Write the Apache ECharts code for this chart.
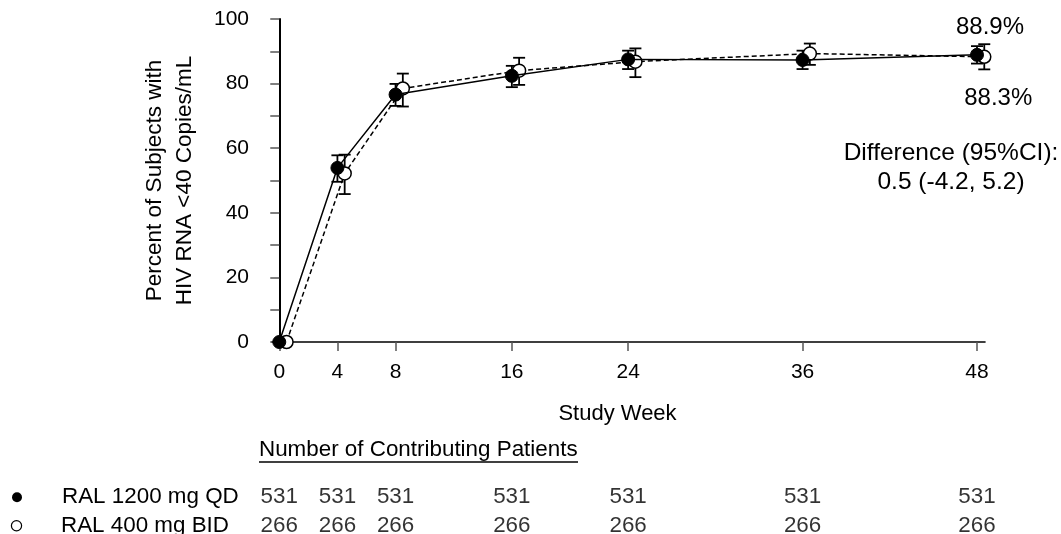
<!DOCTYPE html>
<html>
<head>
<meta charset="utf-8">
<title>Percent of Subjects with HIV RNA &lt;40 Copies/mL</title>
<script src="https://cdn.jsdelivr.net/npm/echarts@6/dist/echarts.min.js"></script>
<style>
  html, body { margin: 0; padding: 0; background: #fff; }
  #chart { width: 1061px; height: 534px; }
</style>
</head>
<body>
<div id="chart"></div>
<script>
// study weeks (x) and tick values
var weeks = [0, 4, 8, 16, 24, 36, 48];
var yTickValues = [0, 10, 20, 30, 40, 50, 60, 70, 80, 90, 100];
var yLabelValues = [0, 20, 40, 60, 80, 100];

// RAL 1200 mg QD (filled circles, solid line)
var qdName = 'RAL 1200 mg QD';
var qdPct = [0, 53.9, 76.6, 82.4, 87.5, 87.3, 88.9];
var qdLow = [null, 49.6, 73.1, 78.9, 84.5, 84.5, 86.2];
var qdHigh = [null, 57.8, 79.9, 85.5, 90.2, 90.2, 91.6];
var qdCount = [531, 531, 531, 531, 531, 531, 531];

// RAL 400 mg BID (open circles, dashed line)
var bidName = 'RAL 400 mg BID';
var bidPct = [0, 52.2, 78.5, 84.0, 86.8, 89.3, 88.3];
var bidLow = [null, 45.8, 72.9, 79.6, 82.0, 85.8, 84.4];
var bidHigh = [null, 58.0, 83.1, 88.0, 90.9, 92.4, 92.2];
var bidCount = [266, 266, 266, 266, 266, 266, 266];

var diffText = 'Difference (95%CI):\n0.5 (-4.2, 5.2)';

var FONT = 'Liberation Sans, Arial, sans-serif';
var BID_SHIFT = 0.5; // open circles are drawn a little to the right

$chart = echarts.init(document.getElementById('chart'), null, { renderer: 'canvas' });

function points(vals, shift, labelCfg) {
    return vals.map(function(v, i) {
        var item = { value: [weeks[i] + shift, v] };
        if (labelCfg && i === vals.length - 1) {
            item.label = labelCfg;
        }
        return item;
    });
}

function bars(low, high, shift) {
    var out = [];
    for (var i = 0; i < weeks.length; i++) {
        if (low[i] == null) continue;
        out.push([weeks[i] + shift, low[i], high[i]]);
    }
    return out;
}

function renderErrorBar(params, api) {
    var x = api.value(0);
    var lo = api.coord([x, api.value(1)]);
    var hi = api.coord([x, api.value(2)]);
    var half = 6;
    var style = { stroke: '#000', lineWidth: 1.8 };
    return {
        type: 'group',
        children: [
            { type: 'line', shape: { x1: lo[0], y1: lo[1], x2: hi[0], y2: hi[1] }, style: style },
            { type: 'line', shape: { x1: lo[0] - half, y1: lo[1], x2: lo[0] + half, y2: lo[1] }, style: style },
            { type: 'line', shape: { x1: hi[0] - half, y1: hi[1], x2: hi[0] + half, y2: hi[1] }, style: style }
        ]
    };
}

function tableRows(counts, row) {
    return counts.map(function(c, i) {
        return [weeks[i], row, c];
    });
}

var option = {
    animation: false,
    backgroundColor: '#fff',
    textStyle: { fontFamily: FONT, color: '#000' },
    grid: [
        { left: 272, right: 76, top: 19, bottom: 192, outerBoundsMode: 'none' },
        { left: 272, right: 76, top: 483, height: 57, outerBoundsMode: 'none' }
    ],
    xAxis: [{
        type: 'value',
        gridIndex: 0,
        min: -0.5,
        max: 48.55,
        name: 'Study Week',
        nameLocation: 'middle',
        nameGap: 61,
        nameTextStyle: { fontSize: 22, color: '#000', fontFamily: FONT, padding: [0, 22, 0, 0] },
        axisLine: { show: true, lineStyle: { color: '#000', width: 1.6 } },
        axisTick: { show: true, customValues: weeks, length: 9, lineStyle: { color: '#555', width: 1.5 } },
        axisLabel: { customValues: weeks, fontSize: 21, color: '#000', margin: 20, fontFamily: FONT },
        splitLine: { show: false }
    }, {
        type: 'value',
        gridIndex: 1,
        min: -0.5,
        max: 48.55,
        show: false
    }],
    yAxis: [{
        type: 'value',
        gridIndex: 0,
        min: 0,
        max: 100,
        name: 'Percent of Subjects with\nHIV RNA <40 Copies/mL',
        nameLocation: 'middle',
        nameRotate: 90,
        nameGap: 72,
        nameTextStyle: { fontSize: 22.5, lineHeight: 30, color: '#000', fontFamily: FONT },
        axisLine: { show: true, lineStyle: { color: '#000', width: 2 } },
        axisTick: { show: true, customValues: yTickValues, length: 9, lineStyle: { color: '#555', width: 1.5 } },
        axisLabel: { customValues: yLabelValues, fontSize: 21, color: '#000', margin: 23, fontFamily: FONT },
        splitLine: { show: false }
    }, {
        type: 'category',
        gridIndex: 1,
        inverse: true,
        data: [qdName, bidName],
        axisLine: { show: false },
        axisTick: { show: false },
        axisLabel: {
            align: 'left',
            margin: 260,
            formatter: function(v, i) {
                return '{' + (i === 0 ? 'full' : 'open') + '| }{gap| }{t|' + v + '}';
            },
            rich: {
                full: { width: 10, height: 10, borderRadius: 5, backgroundColor: '#000' },
                open: { width: 9, height: 9, borderRadius: 5, backgroundColor: '#fff', borderColor: '#000', borderWidth: 1.2 },
                gap: { width: 40 },
                t: { fontSize: 22.4, color: '#000', fontFamily: FONT }
            }
        }
    }],
    graphic: [{
        type: 'text',
        left: 259,
        top: 439,
        style: { text: 'Number of Contributing Patients', fontSize: 22.4, fontFamily: FONT, fill: '#000' }
    }, {
        type: 'line',
        shape: { x1: 259, y1: 462, x2: 578, y2: 462 },
        style: { stroke: '#000', lineWidth: 1.3 }
    }, {
        type: 'text',
        x: 951,
        y: 139,
        style: { text: diffText, fontSize: 24.5, lineHeight: 29, fontFamily: FONT, fill: '#000', align: 'center' }
    }],
    series: [{
        name: bidName + ' CI',
        type: 'custom',
        xAxisIndex: 0,
        yAxisIndex: 0,
        renderItem: renderErrorBar,
        data: bars(bidLow, bidHigh, BID_SHIFT),
        z: 2
    }, {
        name: qdName + ' CI',
        type: 'custom',
        xAxisIndex: 0,
        yAxisIndex: 0,
        renderItem: renderErrorBar,
        data: bars(qdLow, qdHigh, 0),
        z: 2
    }, {
        name: bidName,
        type: 'line',
        xAxisIndex: 0,
        yAxisIndex: 0,
        symbol: 'circle',
        symbolSize: 13,
        showAllSymbol: true,
        lineStyle: { color: '#000', width: 1.5, type: [5, 3] },
        itemStyle: { color: '#fff', borderColor: '#000', borderWidth: 1.5 },
        data: points(bidPct, BID_SHIFT, {
            show: true, position: 'bottom', distance: 22, offset: [14, 0],
            formatter: function(p) { return p.value[1].toFixed(1) + '%'; },
            fontSize: 24, color: '#000', fontFamily: FONT
        }),
        z: 3
    }, {
        name: qdName,
        type: 'line',
        xAxisIndex: 0,
        yAxisIndex: 0,
        symbol: 'circle',
        symbolSize: 13,
        showAllSymbol: true,
        lineStyle: { color: '#000', width: 1.5 },
        itemStyle: { color: '#000', borderColor: '#000', borderWidth: 1 },
        data: points(qdPct, 0, {
            show: true, position: 'top', distance: 8, offset: [13, 0],
            formatter: function(p) { return p.value[1].toFixed(1) + '%'; },
            fontSize: 24, color: '#000', fontFamily: FONT
        }),
        z: 4
    }, {
        name: qdName + ' n',
        type: 'scatter',
        xAxisIndex: 1,
        yAxisIndex: 1,
        symbolSize: 1,
        itemStyle: { color: 'rgba(0,0,0,0)' },
        label: {
            show: true, position: 'inside', fontSize: 22.4, color: '#000', fontFamily: FONT,
            formatter: function(p) { return p.value[2]; }
        },
        data: tableRows(qdCount, 0)
    }, {
        name: bidName + ' n',
        type: 'scatter',
        xAxisIndex: 1,
        yAxisIndex: 1,
        symbolSize: 1,
        itemStyle: { color: 'rgba(0,0,0,0)' },
        label: {
            show: true, position: 'inside', fontSize: 22.4, color: '#000', fontFamily: FONT,
            formatter: function(p) { return p.value[2]; }
        },
        data: tableRows(bidCount, 1)
    }]
};

$chart.setOption(option);
</script>
</body>
</html>
